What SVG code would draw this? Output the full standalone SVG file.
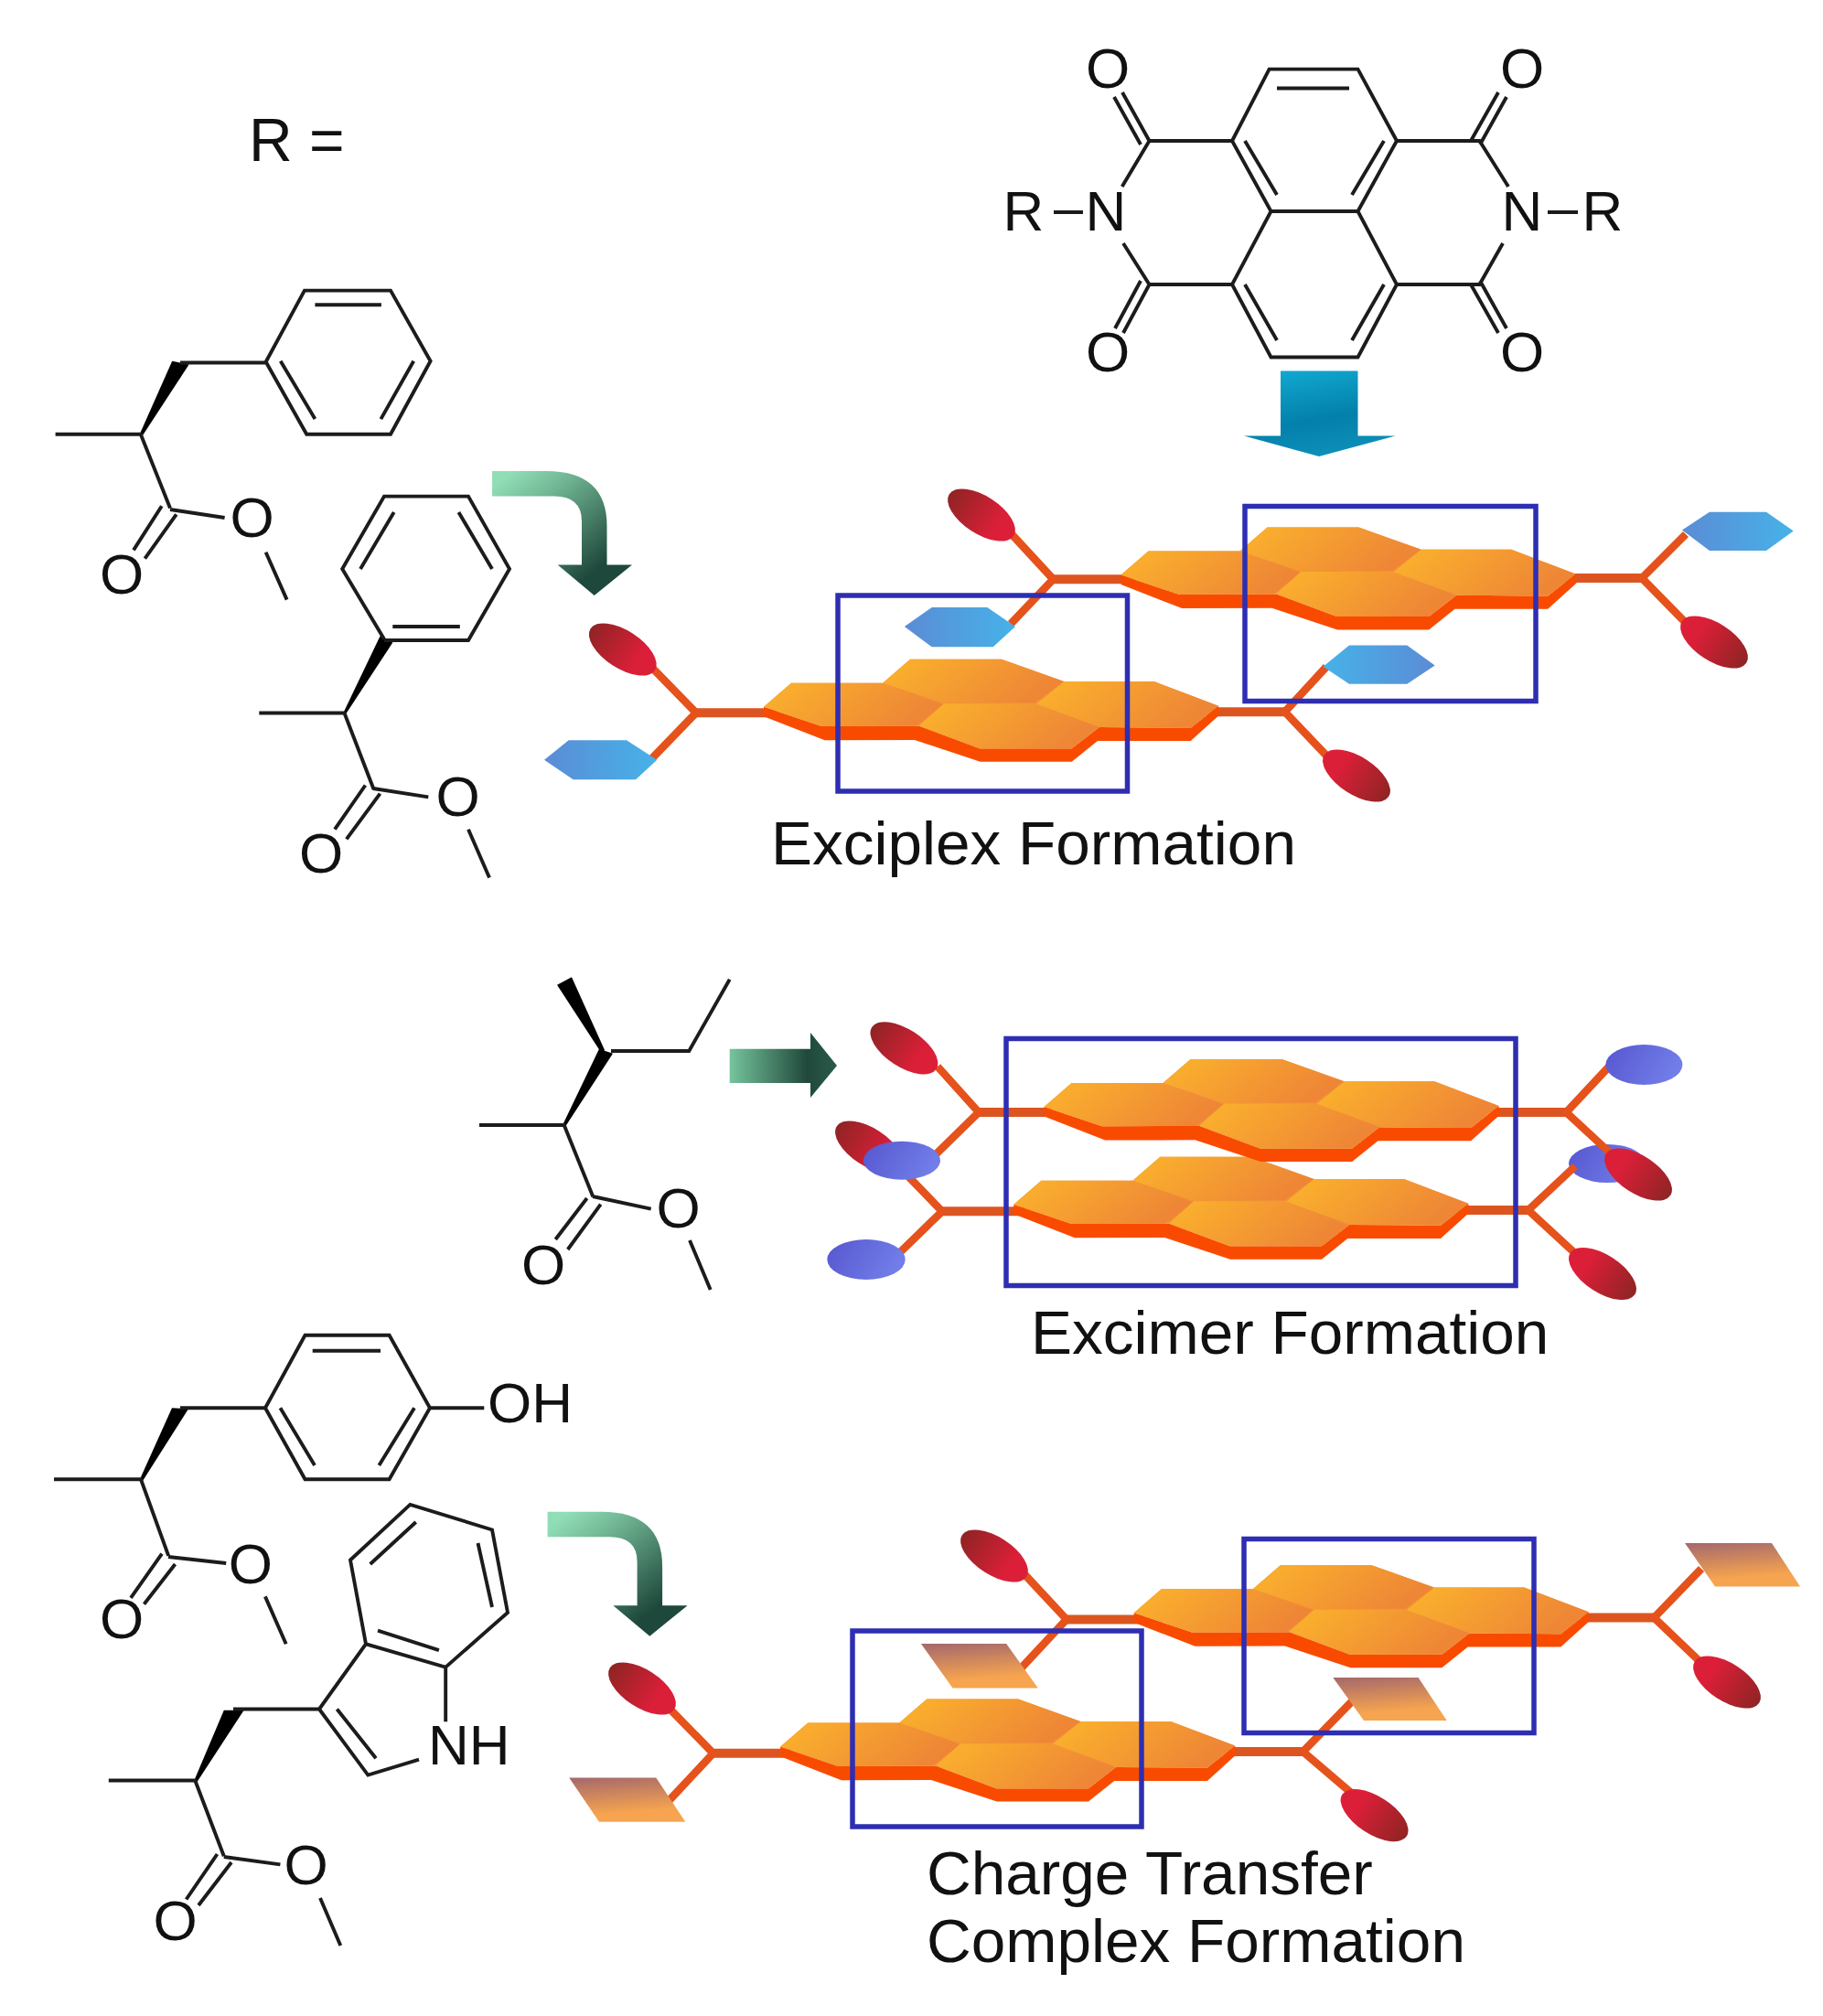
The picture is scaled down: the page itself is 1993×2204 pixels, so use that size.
<svg xmlns="http://www.w3.org/2000/svg" xmlns:xlink="http://www.w3.org/1999/xlink" width="1993" height="2204" viewBox="0 0 1993 2204">
<style>
text{font-family:"Liberation Sans",Arial,sans-serif;fill:#111}
.a{font-size:62px;text-anchor:middle}
.s{font-size:62px}
.l{font-size:67.5px}
.b{fill:none;stroke:#1c1c1c;stroke-width:3.9;stroke-linecap:butt;stroke-linejoin:miter}
.w{fill:#000}
.arm{fill:none;stroke:#e5521b;stroke-width:8.5}
.bar{fill:none;stroke:#dc5520;stroke-width:10}
.box{fill:none;stroke:#2e2eb2;stroke-width:5.5}
.rl{fill:url(#redL)}
.rr{fill:url(#redR)}
.hl{fill:url(#hexL)}
.hr{fill:url(#hexR)}
.pa{fill:url(#para)}
.bl{fill:url(#blue)}
.py{fill:url(#py)}
</style>
<defs>
<linearGradient id="py" x1="0" y1="0" x2="1" y2="0.3"><stop offset="0" stop-color="#fbb42c"/><stop offset="1" stop-color="#ee8636"/></linearGradient>
<linearGradient id="redL"><stop offset="0" stop-color="#8f2424"/><stop offset="0.75" stop-color="#dc1f38"/></linearGradient>
<linearGradient id="redR"><stop offset="0.25" stop-color="#dc1f38"/><stop offset="1" stop-color="#8f2424"/></linearGradient>
<linearGradient id="hexL"><stop offset="0" stop-color="#5b8cd6"/><stop offset="1" stop-color="#46b2e8"/></linearGradient>
<linearGradient id="hexR"><stop offset="0" stop-color="#46b2e8"/><stop offset="1" stop-color="#5b8cd6"/></linearGradient>
<linearGradient id="para" x1="0" y1="0" x2="0.2" y2="1"><stop offset="0" stop-color="#a4686c"/><stop offset="0.85" stop-color="#f6a44f"/></linearGradient>
<linearGradient id="blue" x1="0" y1="0" x2="1" y2="0.3"><stop offset="0" stop-color="#5656cf"/><stop offset="1" stop-color="#717de8"/></linearGradient>
<linearGradient id="down" x1="0.2" y1="0" x2="0.5" y2="1"><stop offset="0" stop-color="#11a9d0"/><stop offset="0.6" stop-color="#0380ab"/><stop offset="1" stop-color="#0d8fb8"/></linearGradient>
<linearGradient id="bend" gradientUnits="userSpaceOnUse" x1="560" y1="515" x2="650" y2="625"><stop offset="0" stop-color="#90deb6"/><stop offset="0.3" stop-color="#72b795"/><stop offset="1" stop-color="#1e483b"/></linearGradient>
<linearGradient id="straight" x1="0" y1="0" x2="1" y2="0"><stop offset="0" stop-color="#76c49d"/><stop offset="0.72" stop-color="#20493b"/><stop offset="1" stop-color="#2a5a4a"/></linearGradient>
<g id="unit">
<polygon fill="#f94b00" points="0,0 63.3,21.3 170,21 236,45.6 336.7,45.6 366.7,22.3 466.7,23 497,-1 498,9 466.7,37.3 365,37.3 336.7,60 236.7,60 165,36.3 66.7,36.6 0,10.6"/>
<polygon fill="#f29438" points="0,0 30,-26 130,-26 160,-52 260,-52 328,-27.7 426.7,-27.7 497,-1 466.7,23 366.7,22.3 336.7,45.6 236,45.6 170,21 63.3,21.3"/>
<polygon class="py" points="0,0 30,-26 130,-26 196.7,-2.7 167,21 63.3,21.3"/>
<polygon class="py" points="130,-26 160,-52 260,-52 328.3,-27.7 296.7,-4.4 196.7,-4"/>
<polygon class="py" points="298,-3 328.3,-27.7 426.7,-27.7 497,-1 466.7,23 368.3,22.3"/>
<polygon class="py" points="170,20.6 196.7,-3.4 296.7,-3.4 366.7,22.3 336.7,45.6 236,45.6"/>
</g>
<path id="bendarrow" d="M538 515H597Q663.5 515 663.5 575V617.5H691L649.7 651 609.7 617.5H636V570Q636 542.6 606 542.6H538Z"/>
</defs>

<text id="r-label" style="font-size:66px" x="272" y="176">R =</text>

<g id="ndi-core">
<path class="b" d="M1387.6 75.6H1484.5L1527 154 1484.5 231H1389.5L1347 154ZM1389.5 231 1347 311 1389.5 390.5H1484.5L1527 311 1484.5 231M1396 96.5H1475M1361 154 1396 213M1513 154 1478 213M1361 311 1396 372M1513 311 1478 372"/>
<path class="b" d="M1347 154H1256.5L1226.7 204M1228 266 1256.5 311H1347M1527 154H1617.5L1649 204M1643 266 1617.5 311H1527M1256.5 154 1227 101M1247 158 1218 106M1618 158 1647 106M1608 154 1638 101M1256.5 311 1228 364M1247 307 1219 359M1618 307 1647 359M1608 311 1638 364M1152 232H1184M1692 232H1725"/>
<text class="a" x="1211" y="96">O</text><text class="a" x="1664" y="96">O</text>
<text class="a" x="1209" y="252">N</text><text class="a" x="1664" y="252">N</text>
<text class="a" x="1119" y="252">R</text><text class="a" x="1752" y="252">R</text>
<text class="a" x="1211" y="406">O</text><text class="a" x="1664" y="406">O</text>
</g>

<g id="phe-1">
<polygon class="w" points="153,474 188.2,394.8 206.6,398.5 156,476"/>
<path class="b" d="M60.6 474.7H153.8L186 555.5M197 396.5H290.2L332.9 317.6H427L470.6 394.8 427 474.7H335.2L290.2 394.8M344.4 333.3H416.9M306.7 394.8 344.4 458.1M452.2 394.8 416.4 458.1M186 557 245.6 566M290.6 603.7 313.6 655.6M176.8 553.2 146 601.4M192.8 562.4 158.4 610.6"/>
<text class="a" x="275.5" y="587">O</text><text class="a" x="133" y="649">O</text>
</g>

<g id="phe-2">
<polygon class="w" points="375.5,779 415.5,695.5 429.3,702.4 378.5,780"/>
<path class="b" d="M283.3 779.5H376.5L408.6 863M420 698.7 374.2 622 420 542.6H512L557 622 512 700H420M394 622 430.7 560M501.4 560 538 622M429.3 685H502.8M408 862 468.3 871.4M512 906.7 535 959.5M399.4 858.5 366 906.7M415.5 867.7 378.8 917.3"/>
<text class="a" x="500.5" y="892">O</text><text class="a" x="351" y="954">O</text>
</g>

<g id="ile">
<polygon class="w" points="609,1076.7 625,1068.3 661,1148 658,1152"/>
<polygon class="w" points="615.5,1229 655,1146.7 670,1151.7 618.5,1231"/>
<path class="b" d="M668 1149H753.3L797.7 1070.7M524 1230H616.7L648.3 1308.3M648 1308 711.7 1321.7M754 1356 776.7 1410M641.7 1310 607.3 1355M656.7 1316.7 620.7 1366"/>
<text class="a" x="741.7" y="1342">O</text><text class="a" x="594" y="1404">O</text>
</g>

<g id="tyr">
<polygon class="w" points="153,1617 188,1539.3 206,1540.2 156,1619"/>
<path class="b" d="M59 1617.3H154L184.2 1700.9M197 1539.3H290L333.5 1459.8H425.6L470 1539.3 425.6 1617.3H333.5L290 1539.3M341.7 1476.8H416M306.4 1539.3 344 1602M453 1539.3 414.4 1602M470 1539.3H529.3M184 1702 247.2 1709M289.9 1745.4 312.7 1797.3M177 1698.6 143 1746.8M191.5 1710 157.5 1753.7"/>
<text class="s" x="533" y="1555">OH</text>
<text class="a" x="273.9" y="1731">O</text><text class="a" x="133" y="1791">O</text>
</g>

<g id="trp">
<polygon class="w" points="212.5,1946 244.8,1869.8 266.6,1869.8 215.5,1948"/>
<path class="b" d="M118.8 1946.5H213.3L244.8 2029.2M255 1868.5H349L400 1797.3 487.2 1822.6V1882.2M458 1923.6 402.3 1940.6 349 1868.5M368.4 1868.5 411 1922.2M413 1782.6 479.9 1804.2M400 1797.3 383 1705.5 448.4 1644.9 538 1672.4 555 1762.9 487.2 1822.6M404.7 1710 454.7 1664M522.5 1687 538 1757M244.8 2030 306.4 2038.4M350 2075 372.3 2127M237.5 2027 203.6 2076.5M253 2036 217 2083"/>
<text class="s" x="468" y="1929">NH</text>
<text class="a" x="334.5" y="2060">O</text><text class="a" x="191.5" y="2121">O</text>
</g>

<g id="connectors">
<polygon id="arrow-core" fill="url(#down)" points="1400,405.5 1484.5,405.5 1484.5,476.6 1525.6,476.6 1442,499 1360,476.6 1400,476.6"/>
<use id="arrow-exciplex" xlink:href="#bendarrow" href="#bendarrow" fill="url(#bend)"/>
<polygon id="arrow-excimer" fill="url(#straight)" points="797.7,1146.7 886,1146.7 886,1129 915,1165 886,1200 886,1184 797.7,1184"/>
<use id="arrow-ct" xlink:href="#bendarrow" href="#bendarrow" fill="url(#bend)" transform="translate(60.6 1137.7)"/>
</g>

<g id="exciplex-upper">
<path class="bar" d="M1149.5 633.3H1240M1710 632H1795"/>
<use href="#unit" xlink:href="#unit" transform="translate(1225.5 628.5)"/>
<path class="arm" d="M1106 584 1151.5 633.3 1105 682M1843 584 1795 632 1842 680"/>
<ellipse class="rl" cx="1073" cy="563" rx="42" ry="20.5" transform="rotate(33 1073 563)"/>
<ellipse class="rr" cx="1874" cy="702" rx="42" ry="20.5" transform="rotate(33 1874 702)"/>
<polygon class="hl" points="988.8,685 1018.7,664 1079.3,664 1110,685 1085.7,707.3 1018.7,707.3"/>
<polygon class="hl" points="1839,579.6 1868.9,559.7 1931,559.7 1960.7,580.6 1931,602 1868.9,602"/>
</g>
<g id="exciplex-lower">
<path class="bar" d="M759 779.3H850M1320 778.3H1404.6"/>
<use href="#unit" xlink:href="#unit" transform="translate(835 772.7)"/>
<path class="arm" d="M712 729 761 779.3 711 831M1450 729 1404.6 778.3 1452 828"/>
<ellipse class="rl" cx="680.8" cy="710" rx="42" ry="20.5" transform="rotate(33 680.8 710)"/>
<ellipse class="rr" cx="1483" cy="848" rx="42" ry="20.5" transform="rotate(33 1483 848)"/>
<polygon class="hl" points="595,830.7 621.7,809.3 685,809.3 718.3,830.7 695,852.3 626.7,852.3"/>
<polygon class="hr" points="1446.5,728.8 1475,705.5 1538.3,705.5 1568.7,727.4 1538.3,747.8 1475,747.8"/>
</g>
<g id="exciplex-boxes">
<rect class="box" x="1361" y="553.5" width="318" height="213"/>
<rect class="box" x="916" y="651" width="316.5" height="214"/>
</g>
<text id="exciplex-label" class="l" x="843" y="945">Exciplex Formation</text>

<g id="excimer-lower">
<ellipse class="rl" cx="950" cy="1254" rx="42" ry="20.5" transform="rotate(33 950 1254)"/>
<ellipse class="bl" cx="1757" cy="1272" rx="42" ry="21"/>
<path class="bar" d="M1028 1324.3H1120M1590 1323H1670.8"/>
<use href="#unit" xlink:href="#unit" transform="translate(1108.3 1316.7)"/>
<path class="arm" d="M990 1283 1030 1324.3 982 1371M1722 1275 1670.8 1323 1725 1373"/>
<ellipse class="bl" cx="947" cy="1377" rx="42.7" ry="22"/>
<ellipse class="rr" cx="1752" cy="1392.5" rx="42" ry="20.5" transform="rotate(33 1752 1392.5)"/>
</g>
<g id="excimer-upper">
<path class="bar" d="M1068 1216H1150M1630 1216H1712.3"/>
<use href="#unit" xlink:href="#unit" transform="translate(1141.5 1210)"/>
<path class="arm" d="M1025 1166 1070 1216 1022 1263M1760 1165 1712.3 1216 1763 1263"/>
<ellipse class="rl" cx="988.4" cy="1145.8" rx="42" ry="20.5" transform="rotate(33 988.4 1145.8)"/>
<ellipse class="bl" cx="986" cy="1268.7" rx="42" ry="21"/>
<ellipse class="bl" cx="1797.4" cy="1164" rx="42" ry="22"/>
<ellipse class="rr" cx="1791" cy="1284" rx="42" ry="20.5" transform="rotate(33 1791 1284)"/>
</g>
<rect id="excimer-box" class="box" x="1100" y="1135.5" width="557" height="270"/>
<text id="excimer-label" class="l" x="1127" y="1480">Excimer Formation</text>

<g id="ct-upper">
<path class="bar" d="M1164 1770.4H1250M1728 1768.6H1808.3"/>
<use href="#unit" xlink:href="#unit" transform="translate(1239.7 1763.2)"/>
<path class="arm" d="M1119 1720 1166 1770.4 1117 1823M1860 1715 1808.3 1768.6 1860 1818"/>
<ellipse class="rl" cx="1087" cy="1701" rx="42" ry="20.5" transform="rotate(33 1087 1701)"/>
<ellipse class="rr" cx="1888" cy="1839" rx="42" ry="20.5" transform="rotate(33 1888 1839)"/>
<polygon class="pa" points="1006.9,1797.1 1100.2,1797.1 1134.8,1845.4 1041.5,1845.4"/>
<polygon class="pa" points="1842,1687 1937,1687 1968,1734.6 1875,1734.6"/>
</g>
<g id="ct-lower">
<path class="bar" d="M777.7 1916.8H865M1340 1915H1424.5"/>
<use href="#unit" xlink:href="#unit" transform="translate(853.2 1909.6)"/>
<path class="arm" d="M733 1869 779.7 1916.8 730 1970M1478 1860 1424.5 1915 1483 1965"/>
<ellipse class="rl" cx="702" cy="1846" rx="42" ry="20.5" transform="rotate(33 702 1846)"/>
<ellipse class="rr" cx="1502.6" cy="1984.6" rx="42" ry="20.5" transform="rotate(33 1502.6 1984.6)"/>
<polygon class="pa" points="622.2,1943.6 717.3,1943.6 749.3,1991.8 655,1991.8"/>
<polygon class="pa" points="1457.3,1834 1550.6,1834 1581.7,1881 1491,1881"/>
</g>
<g id="ct-boxes">
<rect class="box" x="1360" y="1682.5" width="317" height="212"/>
<rect class="box" x="932" y="1783" width="316" height="214"/>
</g>
<text id="ct-label" class="l"><tspan x="1013" y="2071">Charge Transfer</tspan><tspan x="1013" y="2145">Complex Formation</tspan></text>
</svg>
